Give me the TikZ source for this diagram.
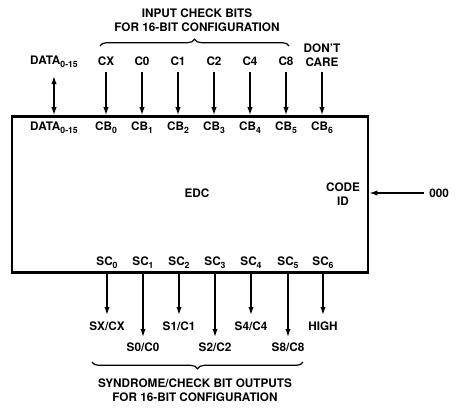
\documentclass[tikz,border=0pt]{standalone}
\usepackage{fontspec}
\setmainfont{TeX Gyre Heros}
\usetikzlibrary{arrows.meta,decorations.pathreplacing}
\newcommand{\lsub}[1]{\raisebox{-0.45ex}{\fontsize{6.5}{6.5}\selectfont #1}}
\tikzset{
  lbl/.style={font=\bfseries\fontsize{8.8}{10.3}\selectfont, inner sep=0pt, align=center},
  arr/.style={line width=1pt, -{Latex[length=6pt,width=4pt]}},
  darr/.style={line width=1pt, {Latex[length=6pt,width=4pt]}-{Latex[length=6pt,width=4pt]}},
  brc/.style={line width=0.9pt, decorate, decoration={brace, amplitude=5pt}}
}
\begin{document}
\begin{tikzpicture}[x=0.75pt,y=-0.75pt]
\useasboundingbox (0,0) rectangle (465,408);
% main box
\node (box) [draw, line width=2pt, minimum width=267pt, minimum height=117pt, inner sep=0pt] at (190,194.5) {};
\node (edc) [lbl] at (197,193) {EDC};
\node (cid) [lbl] at (343,194) {CODE\\ID};
\node (zero) [lbl, anchor=west] at (429,193) {000};
\coordinate (zs) at (424,193);
\draw[arr] (zs) -- (zs -| box.east);

% top title and brace
\node (ttl) [lbl] at (197,20) {INPUT CHECK BITS\\FOR 16-BIT CONFIGURATION};
\coordinate (b1) at (100,46);
\coordinate (b2) at (289,46);
\draw[brc] (b1) -- (b2);

% top labels
\node (lD)  [lbl] at (54,62) {DATA\lsub{0-15}};
\node (lCX) [lbl] at (106,61) {CX};
\node (lC0) [lbl] at (142,61) {C0};
\node (lC1) [lbl] at (178,61) {C1};
\node (lC2) [lbl] at (214,61) {C2};
\node (lC4) [lbl] at (250,61) {C4};
\node (lC8) [lbl] at (286,61) {C8};
\node (lDC) [lbl] at (322,55) {DON'T\\CARE};

\coordinate (tD) at (54,76);
\coordinate (tCX) at (106,72);
\coordinate (tC0) at (142,72);
\coordinate (tC1) at (178,72);
\coordinate (tC2) at (214,72);
\coordinate (tC4) at (250,72);
\coordinate (tC8) at (286,72);
\coordinate (tDC) at (322,72);
\draw[darr] (tD) -- (tD |- box.north);
\foreach \n in {CX,C0,C1,C2,C4,C8,DC}{\draw[arr] (t\n) -- (t\n |- box.north);}

% inner top labels
\node (iD) [lbl] at (54,128) {DATA\lsub{0-15}};
\node (iB0) [lbl] at (106,128) {CB\lsub{0}};
\node (iB1) [lbl] at (142,128) {CB\lsub{1}};
\node (iB2) [lbl] at (178,128) {CB\lsub{2}};
\node (iB3) [lbl] at (214,128) {CB\lsub{3}};
\node (iB4) [lbl] at (250,128) {CB\lsub{4}};
\node (iB5) [lbl] at (286,128) {CB\lsub{5}};
\node (iB6) [lbl] at (322,128) {CB\lsub{6}};

% inner bottom labels
\node (s0) [lbl] at (107,263) {SC\lsub{0}};
\node (s1) [lbl] at (143,263) {SC\lsub{1}};
\node (s2) [lbl] at (179,263) {SC\lsub{2}};
\node (s3) [lbl] at (215,263) {SC\lsub{3}};
\node (s4) [lbl] at (251,263) {SC\lsub{4}};
\node (s5) [lbl] at (288,263) {SC\lsub{5}};
\node (s6) [lbl] at (323,263) {SC\lsub{6}};

% bottom labels
\node (o0) [lbl] at (107,326) {SX/CX};
\node (o1) [lbl] at (143,347) {S0/C0};
\node (o2) [lbl] at (179,326) {S1/C1};
\node (o3) [lbl] at (215,347) {S2/C2};
\node (o4) [lbl] at (251,326) {S4/C4};
\node (o5) [lbl] at (288,347) {S8/C8};
\node (o6) [lbl] at (323,326) {HIGH};

\coordinate (e0) at (107,315);
\coordinate (e1) at (143,337);
\coordinate (e2) at (179,315);
\coordinate (e3) at (215,337);
\coordinate (e4) at (251,315);
\coordinate (e5) at (288,337);
\coordinate (e6) at (323,315);
\foreach \n in {0,...,6}{\draw[arr] (e\n |- box.south) -- (e\n);}

% bottom brace and title
\coordinate (c1) at (303,362);
\coordinate (c2) at (92,362);
\draw[brc] (c1) -- (c2);
\node (btl) [lbl] at (195,390) {SYNDROME/CHECK BIT OUTPUTS\\FOR 16-BIT CONFIGURATION};
\end{tikzpicture}
\end{document}
